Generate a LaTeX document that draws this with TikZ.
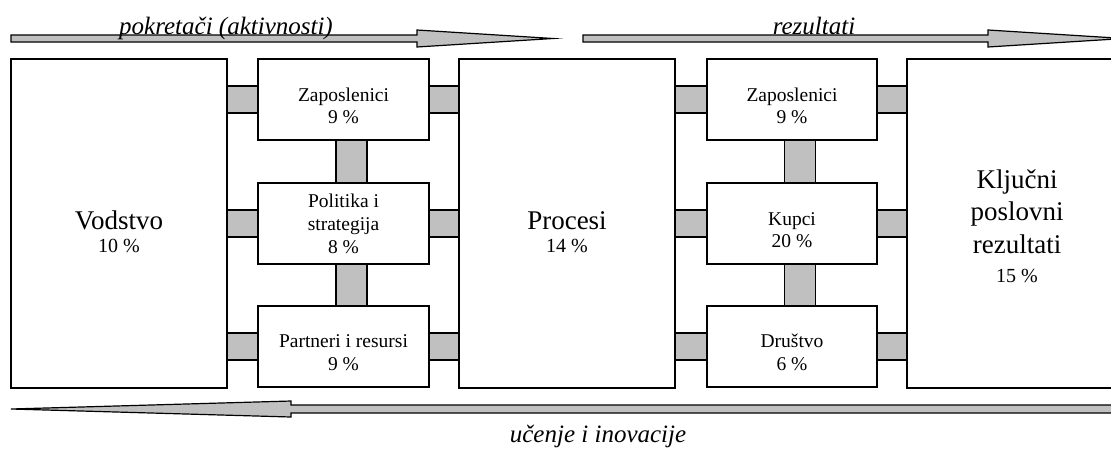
\documentclass[tikz,border=0pt]{standalone}
\usepackage{fontspec}
\setmainfont{Liberation Serif}
\usetikzlibrary{calc}
\definecolor{gr}{HTML}{C0C0C0}
\begin{document}
\begin{tikzpicture}[x=1pt,y=-1pt,
  box/.style={draw, line width=1.4pt, fill=white, inner sep=0pt, outer sep=0pt},
  bigbox/.style={box, minimum height=329pt},
  smallbox/.style={box, minimum width=171pt, minimum height=81pt},
  link/.style={draw, line width=1.3pt, fill=gr},
  arr/.style={draw, line width=1.2pt, fill=gr, line join=miter, miter limit=30},
  smalltxt/.style={anchor=base, inner sep=0pt, font=\fontsize{19.5}{22}\selectfont},
  bigtxt/.style={anchor=base, inner sep=0pt, font=\fontsize{27}{30}\selectfont},
  bigpct/.style={anchor=base, inner sep=0pt, font=\fontsize{20}{24}\selectfont},
  labtxt/.style={anchor=base, inner sep=0pt, font=\fontsize{25}{28}\selectfont\itshape}]
\useasboundingbox (0,0) rectangle (1111,448);
\clip (0,0) rectangle (1111,448);

% arrows
\draw[arr] (11,35) -- (417,35) -- (417,30) -- (553,38.5) -- (417,47) -- (417,42) -- (11,42) -- cycle;
\draw[arr] (583,35) -- (988,35) -- (988,30) -- (1124,38.5) -- (988,47) -- (988,42) -- (583,42) -- cycle;
\draw[arr] (1125,405) -- (291,405) -- (291,401) -- (11,409) -- (291,417) -- (291,413) -- (1125,413) -- cycle;

\node[labtxt] (t1) at (226,34) {pokretači (aktivnosti)};
\node[labtxt] (t2) at (814,34) {rezultati};
\node[labtxt] (t3) at (598,442) {učenje i inovacije};

% big boxes
\node[bigbox, minimum width=216pt] (vod) at (119,223.5) {};
\node[bigbox, minimum width=216pt] (pro) at (567,223.5) {};
\node[bigbox, minimum width=223pt] (klj) at (1018.5,223.5) {};

% small boxes
\node[smallbox] (lz) at (343.5,99.5) {};
\node[smallbox] (lp) at (343.5,223.5) {};
\node[smallbox] (lr) at (343.5,346.5) {};
\node[smallbox, minimum width=170pt] (rz) at (792,99.5) {};
\node[smallbox, minimum width=170pt] (rk) at (792,223.5) {};
\node[smallbox, minimum width=170pt] (rd) at (792,346.5) {};

% horizontal links
\foreach \a/\b in {vod/lz,vod/lp,vod/lr,pro/rz,pro/rk,pro/rd}{
  \draw[link] ($(\a.east |- \b.center)+(0,-13.5)$) rectangle ($(\b.west)+(0,13.5)$);
}
\foreach \a/\b in {lz/pro,lp/pro,lr/pro,rz/klj,rk/klj,rd/klj}{
  \draw[link] ($(\a.east)+(0,-13.5)$) rectangle ($(\b.west |- \a.center)+(0,13.5)$);
}
% vertical links
\foreach \a/\b in {lz/lp,lp/lr,rz/rk,rk/rd}{
  \draw[link] ($(\a.south)+(-7.5,0)$) rectangle ($(\b.north)+(23.5,0)$);
}

% texts big
\node[bigtxt] (vod1) at (119,229) {Vodstvo};
\node[bigpct] (vod2) at (119,252) {10 \%};
\node[bigtxt] (pro1) at (567,229) {Procesi};
\node[bigpct] (pro2) at (567,252) {14 \%};
\node[bigtxt] (klj1) at (1017,188) {Ključni};
\node[bigtxt] (klj2) at (1017,220.5) {poslovni};
\node[bigtxt] (klj3) at (1017,253) {rezultati};
\node[bigpct] (klj4) at (1017,282) {15 \%};

% texts small
\node[smalltxt] (lz1) at (343.5,101) {Zaposlenici};
\node[smalltxt] (lz2) at (343.5,123.5) {9 \%};
\node[smalltxt] (lp1) at (343.5,207) {Politika i};
\node[smalltxt] (lp2) at (343.5,230) {strategija};
\node[smalltxt] (lp3) at (343.5,253) {8 \%};
\node[smalltxt] (lr1) at (343.5,347.5) {Partneri i resursi};
\node[smalltxt] (lr2) at (343.5,370) {9 \%};
\node[smalltxt] (rz1) at (792,101) {Zaposlenici};
\node[smalltxt] (rz2) at (792,123.5) {9 \%};
\node[smalltxt] (rk1) at (792,225) {Kupci};
\node[smalltxt] (rk2) at (792,247.5) {20 \%};
\node[smalltxt] (rd1) at (792,347.5) {Društvo};
\node[smalltxt] (rd2) at (792,370) {6 \%};
\end{tikzpicture}
\end{document}
